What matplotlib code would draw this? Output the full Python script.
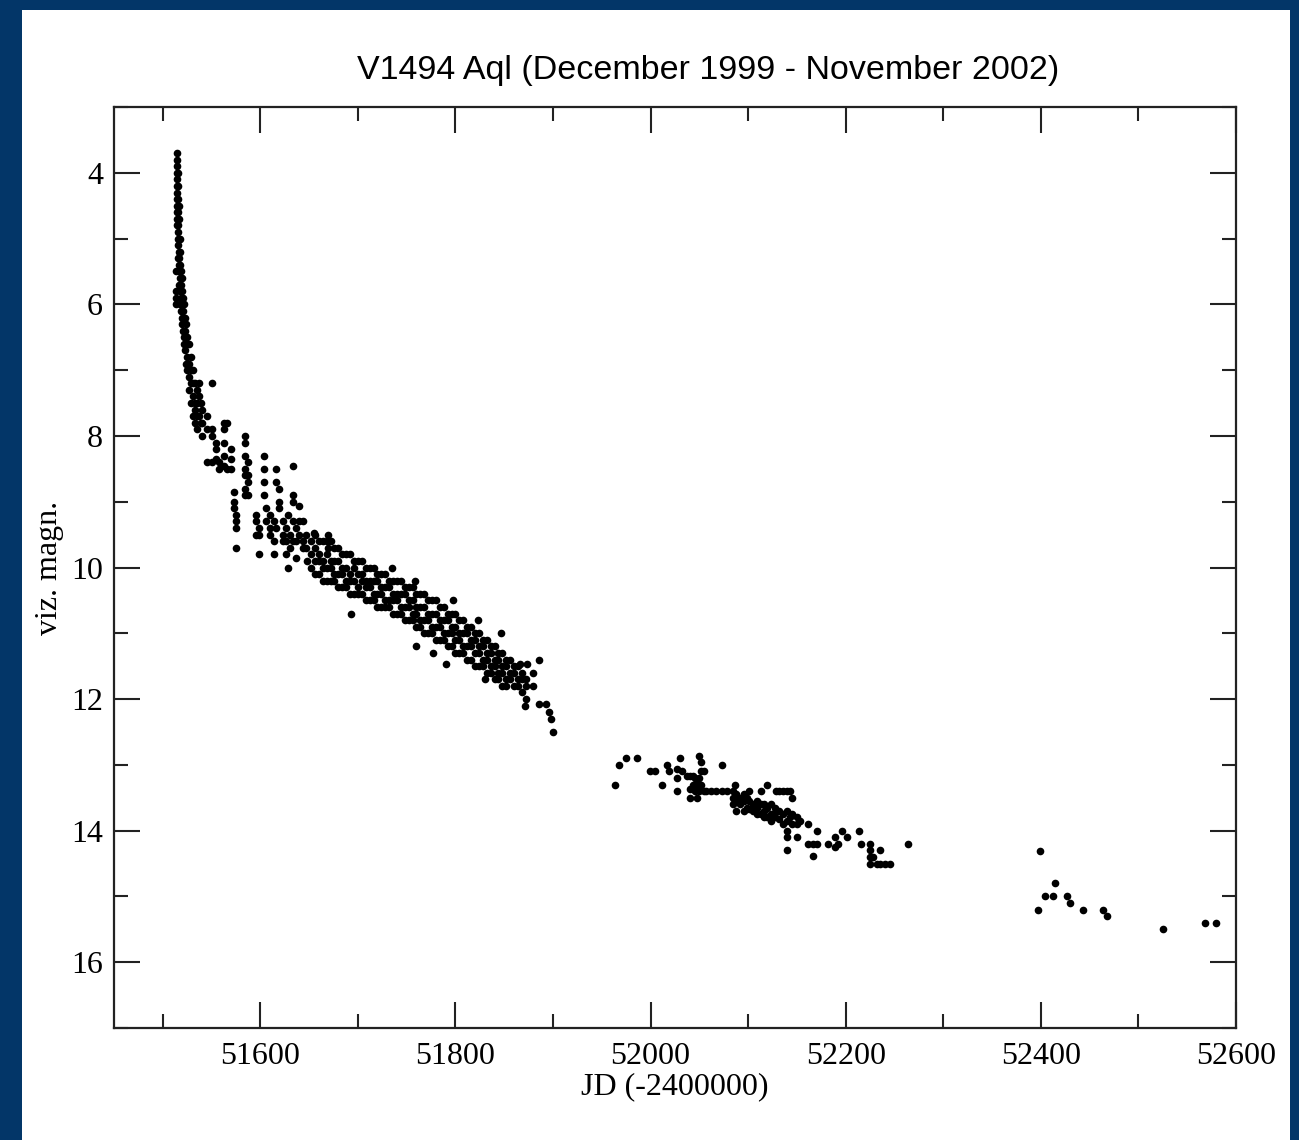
import matplotlib
matplotlib.use('Agg')
import matplotlib.pyplot as plt
from matplotlib.patches import Rectangle
from matplotlib.ticker import MultipleLocator

# light curve: (JD-2400000, [visual magnitudes])
peak = [
    (51514, [5.5, 5.8, 5.9, 6.0]),
    (51515, [3.7, 3.8, 3.9, 4.0, 4.1, 4.2, 4.3, 4.4, 4.5, 4.6, 4.7, 4.8]),
    (51516, [4.0, 4.2, 4.4, 4.6, 4.8, 4.9, 5.0, 5.1, 5.3]),
    (51517, [4.5, 4.7, 5.0, 5.2, 5.3, 5.4, 5.5, 5.7]),
    (51518, [5.0, 5.2, 5.4, 5.6, 5.8, 6.0]),
    (51519, [5.5, 5.7, 5.9, 6.1]),
    (51520, [5.6, 5.8, 6.0, 6.2, 6.3]),
    (51521, [5.9, 6.1, 6.4]),
    (51522, [6.0, 6.2, 6.5, 6.6]),
    (51523, [6.2, 6.4, 6.7]),
    (51524, [6.3, 6.6, 6.9]),
    (51525, [6.5, 6.8, 7.0]),
    (51527, [6.6, 6.9, 7.1, 7.3]),
    (51529, [6.8, 7.0, 7.2, 7.5]),
    (51531, [7.0, 7.2, 7.4, 7.7]),
    (51533, [7.2, 7.5, 7.6, 7.8]),
    (51535, [7.3, 7.5, 7.7, 7.9]),
    (51537, [7.2, 7.4, 7.7]),
    (51539, [7.5, 7.8]),
]

early = [
    (51540, [7.6, 7.8, 8.0]), (51545, [7.7, 7.9, 8.4]),
    (51550, [7.2, 7.9, 8.0, 8.4]), (51555, [8.1, 8.2, 8.35]),
    (51558, [8.4, 8.5]), (51563, [7.8, 7.9, 8.1, 8.3, 8.45]),
    (51566, [7.8, 8.5]), (51570, [8.2, 8.35, 8.5]),
    (51573, [8.85, 9.0, 9.1]), (51575, [9.2, 9.3, 9.4, 9.7]),
    (51584, [8.0, 8.1, 8.3, 8.5, 8.6, 8.8, 8.9]), (51587, [8.4, 8.6, 8.7, 8.9]),
    (51596, [9.2, 9.3, 9.5]), (51599, [9.4, 9.5, 9.8]),
    (51604, [8.3, 8.5, 8.7, 8.9]), (51606, [9.1, 9.3]),
    (51610, [9.2, 9.4, 9.5]), (51614, [9.3, 9.6, 9.8]),
    (51616, [8.5, 8.7, 9.4]), (51619, [8.8, 9.0, 9.1]),
    (51623, [9.3, 9.5, 9.6]), (51626, [9.4, 9.6, 9.8]),
    (51628, [9.2, 10.0]), (51630, [9.5, 9.7]),
    (51633, [8.45, 8.9, 9.0, 9.3, 9.6]), (51637, [9.4, 9.6, 9.85]),
    (51640, [9.07, 9.3, 9.5]), (51644, [9.3, 9.6, 9.7]),
    (51647, [9.5, 9.7]), (51648, [9.9]),
]

band = [
    (51652, [9.6, 9.8, 10.0]), (51655, [9.47]),
    (51656, [9.5, 9.7, 9.9, 10.1]), (51660, [9.6, 9.8, 9.9, 10.1]),
    (51664, [9.6, 9.9, 10.0, 10.2]), (51668, [9.6, 9.8, 10.0, 10.2]),
    (51669, [9.5, 9.6, 9.7]),
    (51672, [9.6, 9.9, 10.0, 10.2]), (51676, [9.7, 9.9, 10.1, 10.2]),
    (51680, [9.7, 9.9, 10.1, 10.3]), (51684, [9.8, 10.0, 10.1, 10.3]),
    (51688, [9.8, 10.0, 10.2, 10.3]), (51692, [9.8, 10.1, 10.2, 10.4]),
    (51693, [10.7]),
    (51696, [9.9, 10.0, 10.2, 10.4]), (51700, [9.9, 10.1, 10.3, 10.4]),
    (51704, [9.9, 10.1, 10.2, 10.4]), (51708, [10.0, 10.2, 10.3, 10.5]),
    (51712, [10.0, 10.2, 10.3, 10.5]), (51716, [10.0, 10.2, 10.4, 10.5]),
    (51720, [10.1, 10.2, 10.4, 10.6]), (51724, [10.1, 10.3, 10.4, 10.6]),
    (51728, [10.1, 10.3, 10.5, 10.6]), (51732, [10.2, 10.3, 10.5, 10.6]),
    (51735, [10.0]),
    (51736, [10.2, 10.4, 10.5, 10.7]), (51740, [10.2, 10.4, 10.5, 10.7]),
    (51744, [10.2, 10.4, 10.6, 10.7]), (51748, [10.3, 10.4, 10.6, 10.8]),
    (51752, [10.3, 10.5, 10.6, 10.8]), (51756, [10.3, 10.5, 10.7, 10.8]),
    (51758, [10.2]),
    (51760, [10.4, 10.6, 10.7, 10.9, 11.2]), (51764, [10.4, 10.6, 10.8, 10.9]),
    (51768, [10.4, 10.6, 10.8, 11.0]), (51772, [10.5, 10.7, 10.8, 11.0]),
    (51776, [10.5, 10.7, 10.9, 11.0]), (51777, [11.3]),
    (51780, [10.5, 10.7, 10.9, 11.1]), (51784, [10.6, 10.8, 10.9, 11.1]),
    (51788, [10.6, 10.8, 11.0, 11.1]), (51790, [11.47]),
    (51792, [10.7, 10.8, 11.0, 11.2]), (51796, [10.7, 10.9, 11.0, 11.2]),
    (51797, [10.5]),
    (51800, [10.7, 10.9, 11.1, 11.3]), (51804, [10.8, 11.0, 11.1, 11.3]),
    (51808, [10.8, 11.0, 11.2, 11.3]), (51812, [10.9, 11.0, 11.2, 11.4]),
    (51816, [10.9, 11.1, 11.2, 11.4]), (51820, [11.0, 11.1, 11.3, 11.5]),
    (51823, [10.8]),
    (51824, [11.0, 11.2, 11.3, 11.5]), (51828, [11.1, 11.2, 11.4, 11.5]),
    (51830, [11.7]),
    (51832, [11.1, 11.3, 11.4, 11.6]), (51836, [11.2, 11.3, 11.5, 11.6]),
    (51840, [11.2, 11.4, 11.5, 11.7]), (51844, [11.3, 11.4, 11.6, 11.7]),
    (51847, [10.99]),
    (51848, [11.3, 11.5, 11.6, 11.8]), (51852, [11.4, 11.5, 11.7, 11.8]),
    (51856, [11.4, 11.6, 11.7]), (51860, [11.5, 11.6, 11.8]),
    (51864, [11.5, 11.7, 11.8]), (51866, [11.47]),
    (51868, [11.6, 11.7, 11.9]), (51871, [12.1]),
    (51872, [11.7, 11.8, 12.0]), (51873, [11.47]),
    (51879, [11.6, 11.8]), (51886, [11.4, 12.08]),
    (51893, [12.08]), (51896, [12.19]), (51898, [12.3]), (51900, [12.5]),
]

second = [
    (51963, [13.31]), (51968, [13.0]), (51975, [12.89]), (51986, [12.89]),
    (51999, [13.1]), (52004, [13.1]), (52012, [13.31]), (52017, [13.0]),
    (52019, [13.1]), (52027, [13.07, 13.2, 13.4]), (52030, [12.89]),
    (52032, [13.1]), (52037, [13.17]), (52040, [13.17, 13.37, 13.5]),
    (52043, [13.17, 13.3]), (52045, [13.2, 13.3, 13.4]),
    (52048, [13.25, 13.35, 13.5]), (52050, [12.87, 13.2, 13.4]),
    (52052, [12.96, 13.1, 13.3]), (52055, [13.1, 13.4]), (52057, [13.4]),
    (52062, [13.4]), (52067, [13.4]), (52073, [13.0, 13.4]), (52078, [13.4]),
    (52084, [13.4, 13.5, 13.6]), (52086, [13.3]), (52088, [13.45, 13.55, 13.7]),
    (52092, [13.5, 13.6]), (52096, [13.45, 13.55, 13.7]), (52099, [13.5, 13.65]),
    (52101, [13.4, 13.55, 13.67]), (52105, [13.6, 13.7]),
    (52109, [13.55, 13.65, 13.75]), (52113, [13.4, 13.6, 13.75]),
    (52116, [13.6, 13.7, 13.8]), (52119, [13.3, 13.65, 13.8]),
    (52123, [13.6, 13.75, 13.85]), (52127, [13.65, 13.8]), (52129, [13.4, 13.7]),
    (52132, [13.4, 13.7, 13.83]), (52136, [13.4, 13.75, 13.9]),
    (52140, [13.4, 13.7, 13.85, 14.0, 14.1, 14.3]), (52143, [13.4, 13.8]),
    (52145, [13.5, 13.75, 13.9]), (52150, [13.8, 13.9, 14.1]), (52153, [13.85]),
    (52161, [13.9, 14.2]), (52166, [14.2, 14.39]), (52171, [14.0, 14.2]),
    (52182, [14.2]), (52189, [14.1, 14.25]), (52192, [14.2]), (52196, [14.0]),
    (52201, [14.1]), (52214, [14.0]), (52216, [14.2]),
    (52225, [14.2, 14.3, 14.4, 14.5]), (52228, [14.4]), (52232, [14.5]),
    (52235, [14.3, 14.5]), (52240, [14.5]), (52245, [14.5]), (52264, [14.2]),
]

late = [
    (52397, [15.2]), (52399, [14.31]), (52404, [15.0]), (52412, [15.0]),
    (52414, [14.79]), (52427, [15.0]), (52430, [15.1]), (52443, [15.2]),
    (52464, [15.2]), (52468, [15.3]), (52525, [15.5]), (52568, [15.4]),
    (52580, [15.4]),
]


def unpack(groups):
    jd, mag = [], []
    for day, mags in groups:
        for m in mags:
            jd.append(day)
            mag.append(m)
    return jd, mag


serif = ['Liberation Serif', 'DejaVu Serif']

fig = plt.figure(figsize=(12.99, 11.40), dpi=100, facecolor='#033668')
# white card behind the plot
fig.patches.append(Rectangle((22 / 1299, 0), 1268 / 1299, 1 - 10 / 1140,
                             transform=fig.transFigure, facecolor='white',
                             edgecolor='none', zorder=-10))

ax = fig.add_axes([114 / 1299, 1 - 1028 / 1140, 1122 / 1299, 921 / 1140])
ax.set_zorder(5)
ax.patch.set_alpha(0)

for seg in (peak, early, band, second, late):
    jd, mag = unpack(seg)
    ax.plot(jd, mag, 'o', ms=5.5, color='black', mew=0)

ax.set_xlim(51450, 52600)
ax.set_ylim(17, 3)
ax.xaxis.set_major_locator(MultipleLocator(200))
ax.xaxis.set_minor_locator(MultipleLocator(100))
ax.yaxis.set_major_locator(MultipleLocator(2))
ax.yaxis.set_minor_locator(MultipleLocator(1))
ax.tick_params(which='both', direction='in', top=True, right=True, width=1.5,
               colors='#222222', labelsize=23)
ax.tick_params(which='major', length=18.5)
ax.tick_params(which='minor', length=10)
ax.tick_params(axis='x', pad=10)
ax.tick_params(axis='y', pad=8)
for lab in ax.get_xticklabels() + ax.get_yticklabels():
    lab.set_family(serif)
    lab.set_color('black')
for sp in ax.spines.values():
    sp.set_linewidth(1.6)
    sp.set_color('#222222')

ax.set_xlabel('JD (-2400000)', fontsize=23, family=serif, labelpad=1)
ax.set_ylabel('viz. magn.', fontsize=23, family=serif, labelpad=5)
ax.set_title('V1494 Aql (December 1999 - November 2002)', fontsize=24.5,
             family=['Liberation Sans', 'DejaVu Sans'], pad=20,
             x=(708 - 114) / 1122)

fig.savefig('out.png', dpi=100, facecolor=fig.get_facecolor())
